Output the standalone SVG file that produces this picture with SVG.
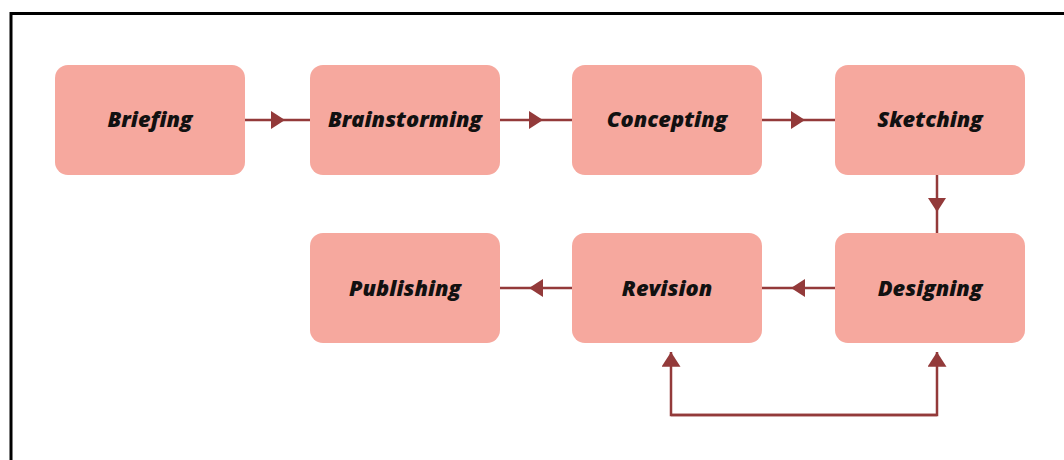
<svg xmlns="http://www.w3.org/2000/svg" width="1064" height="460" viewBox="0 0 1064 460">
<style>
.box{fill:#f6a89e}
.lbl{font-family:"Open Sans","Liberation Sans",sans-serif;font-weight:800;font-style:italic;font-size:21.8px;fill:#111;text-anchor:middle;dominant-baseline:central}
.ln{fill:none;stroke:#933a3a;stroke-width:2.5}
</style>
<defs>
<marker id="mid" viewBox="0 0 14 18" refX="7" refY="9" markerWidth="14" markerHeight="18" markerUnits="userSpaceOnUse" orient="auto"><path d="M0,0 L14,9 L0,18 Z" fill="#933a3a"/></marker>
<marker id="end" viewBox="0 0 14 18" refX="14" refY="9" markerWidth="16" markerHeight="19" markerUnits="userSpaceOnUse" orient="auto"><path d="M0,0 L14,9 L0,18 Z" fill="#933a3a"/></marker>
</defs>
<rect width="1064" height="460" fill="#fff"/>
<path d="M11,462 V13.5 H1066" fill="none" stroke="#000" stroke-width="3"/>
<g id="connectors">
<path class="ln" d="M245,120 L278,120 L310,120" marker-mid="url(#mid)"/>
<path class="ln" d="M500,120 L536,120 L572,120" marker-mid="url(#mid)"/>
<path class="ln" d="M762,120 L798,120 L835,120" marker-mid="url(#mid)"/>
<path class="ln" d="M937,175 L937,205 L937,233" marker-mid="url(#mid)"/>
<path class="ln" d="M835,288 L798,288 L762,288" marker-mid="url(#mid)"/>
<path class="ln" d="M572,288 L536,288 L500,288" marker-mid="url(#mid)"/>
<path class="ln" d="M671,415 H937 V352" marker-end="url(#end)"/>
<path class="ln" d="M937,415 H671 V352" marker-end="url(#end)"/>
</g>
<g id="briefing"><rect class="box" x="55" y="65" width="190" height="110" rx="13"/><text class="lbl" x="150" y="118">Briefing</text></g>
<g id="brainstorming"><rect class="box" x="310" y="65" width="190" height="110" rx="13"/><text class="lbl" x="405" y="118">Brainstorming</text></g>
<g id="concepting"><rect class="box" x="572" y="65" width="190" height="110" rx="13"/><text class="lbl" x="667" y="118">Concepting</text></g>
<g id="sketching"><rect class="box" x="835" y="65" width="190" height="110" rx="13"/><text class="lbl" x="930" y="118">Sketching</text></g>
<g id="designing"><rect class="box" x="835" y="233" width="190" height="110" rx="13"/><text class="lbl" x="930" y="287">Designing</text></g>
<g id="revision"><rect class="box" x="572" y="233" width="190" height="110" rx="13"/><text class="lbl" x="667" y="287">Revision</text></g>
<g id="publishing"><rect class="box" x="310" y="233" width="190" height="110" rx="13"/><text class="lbl" x="405" y="287">Publishing</text></g>
</svg>
